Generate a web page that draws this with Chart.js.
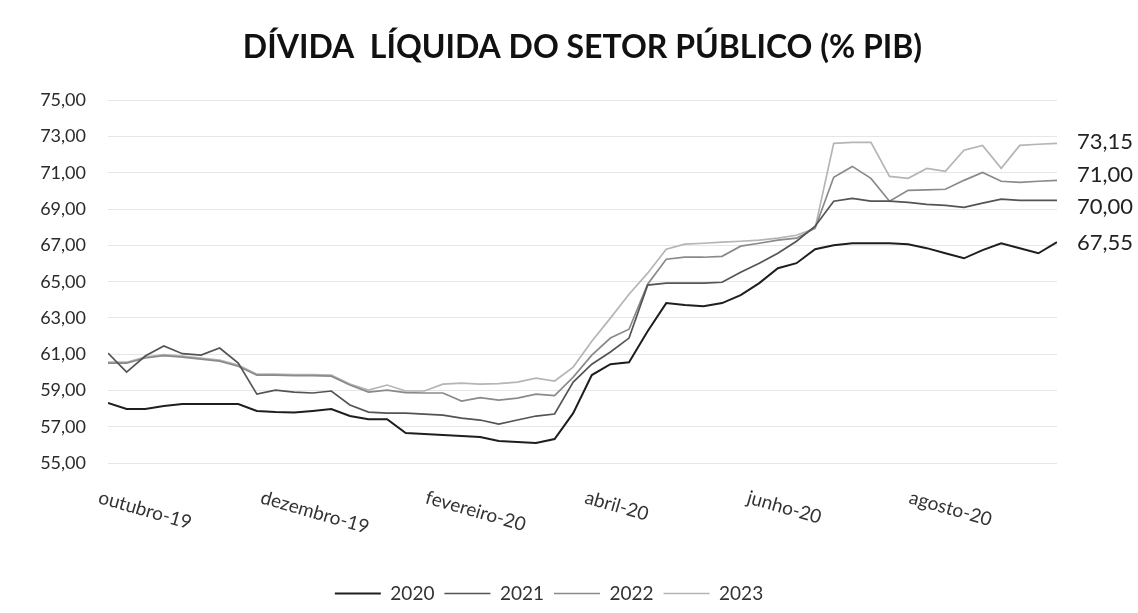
<!DOCTYPE html>
<html>
<head>
<meta charset="utf-8">
<script src="https://cdn.jsdelivr.net/npm/chart.js@4.4.1/dist/chart.umd.min.js"></script>
<style>
html,body{margin:0;padding:0;background:#fff;}
#wrap{width:1138px;height:613px;position:relative;}
</style>
</head>
<body>
<div id="wrap"><canvas id="c" width="1138" height="613"></canvas></div>
<script>
// Day offsets from 1 Oct 2019 (weekly observations)
const days = [0,7,14,21,28,35,42,49,56,63,70,77,84,91,98,105,112,119,126,133,140,147,154,161,168,175,182,189,196,203,210,217,224,231,238,245,252,259,266,273,280,287,294,301,308,315,322,329,336,343,350,357];

const s2020 = [58.31,57.98,57.98,58.14,58.25,58.25,58.25,58.25,57.87,57.81,57.78,57.87,57.98,57.59,57.42,57.42,56.65,56.60,56.54,56.49,56.43,56.21,56.16,56.10,56.32,57.75,59.85,60.45,60.56,62.27,63.82,63.71,63.65,63.82,64.26,64.92,65.74,66.02,66.79,67.01,67.12,67.12,67.12,67.07,66.85,66.57,66.29,66.74,67.12,66.85,66.57,67.18];
const s2021 = [61.06,60.01,60.90,61.45,61.03,60.95,61.34,60.51,58.80,59.02,58.91,58.86,58.97,58.20,57.81,57.75,57.75,57.70,57.64,57.48,57.37,57.15,57.37,57.59,57.70,59.46,60.45,61.12,61.89,64.81,64.92,64.92,64.92,64.97,65.52,66.02,66.57,67.23,68.06,69.44,69.60,69.44,69.44,69.38,69.27,69.21,69.10,69.33,69.55,69.49,69.49,69.49];
const s2022 = [60.51,60.51,60.79,60.92,60.84,60.73,60.62,60.34,59.85,59.85,59.82,59.82,59.79,59.30,58.91,59.02,58.88,58.86,58.86,58.42,58.61,58.47,58.58,58.80,58.72,59.74,60.95,61.89,62.38,64.86,66.24,66.35,66.35,66.40,66.96,67.12,67.29,67.40,67.95,70.76,71.36,70.70,69.44,70.04,70.07,70.10,70.59,71.03,70.54,70.48,70.54,70.59];
const s2023 = [60.56,60.56,60.84,60.98,60.90,60.79,60.67,60.40,59.90,59.90,59.88,59.88,59.85,59.35,59.02,59.30,58.97,58.97,59.35,59.41,59.35,59.38,59.46,59.68,59.52,60.29,61.72,62.99,64.31,65.47,66.79,67.07,67.12,67.18,67.23,67.29,67.40,67.56,67.95,72.63,72.69,72.69,70.81,70.70,71.25,71.09,72.25,72.52,71.25,72.52,72.58,72.63];

const seriesNames = ['2020','2021','2022','2023'];
const endLabels = ['67,55','70,00','71,00','73,15'];
const tickDays = [0,61,123,183,244,305];
const tickLabels = ['outubro-19','dezembro-19','fevereiro-20','abril-20','junho-20','agosto-20'];
const title = 'DÍVIDA  LÍQUIDA DO SETOR PÚBLICO (% PIB)';

const colors = ['#1e1e1e','#545454','#8a8a8a','#b5b5b5'];
const allSeries = [s2020,s2021,s2022,s2023];

const datasets = allSeries.map((s,i)=>({
  label: seriesNames[i],
  data: s.map((v,j)=>({x: days[j], y: v})),
  borderColor: colors[i],
  backgroundColor: colors[i],
  borderWidth: i===0 ? 2 : 1.7,
  pointRadius: 0,
  tension: 0,
  fill: false
}));

const xLabelPlugin = {
  id: 'xlabels',
  afterDraw(chart){
    const ctx = chart.ctx, xs = chart.scales.x, area = chart.chartArea;
    ctx.save();
    ctx.font = '19px Lato';
    ctx.fillStyle = '#333';
    ctx.textAlign = 'left';
    ctx.textBaseline = 'middle';
    tickDays.forEach((d,i)=>{
      const x = xs.getPixelForValue(d);
      ctx.save();
      ctx.translate(x - 9, area.bottom + 34);
      ctx.rotate(16*Math.PI/180);
      ctx.fillText(tickLabels[i], 0, 0);
      ctx.restore();
    });
    ctx.restore();
  }
};

const endLabelPlugin = {
  id: 'endlabels',
  afterDatasetsDraw(chart){
    const ctx = chart.ctx, area = chart.chartArea;
    const nudge = [1, 7, -5, -1];
    ctx.save();
    ctx.font = '22px Lato';
    ctx.fillStyle = '#222';
    ctx.textAlign = 'left';
    ctx.textBaseline = 'middle';
    chart.data.datasets.forEach((ds,i)=>{
      const meta = chart.getDatasetMeta(i);
      const pt = meta.data[meta.data.length-1];
      ctx.fillText(endLabels[i], area.right + 20, pt.y + nudge[i]);
    });
    ctx.restore();
  }
};

new Chart(document.getElementById('c'), {
  type: 'line',
  data: { datasets },
  options: {
    responsive: false,
    animation: false,
    layout: { padding: { left: 0, right: 40, top: 0, bottom: 0 } },
    scales: {
      x: {
        type: 'linear', min: 0, max: 357,
        grid: { display: false },
        border: { display: false },
        ticks: { display: false },
        afterFit(scale){ scale.height = 111; }
      },
      y: {
        min: 55, max: 75,
        afterFit(scale){ scale.width = 108; },
        border: { display: false },
        grid: { color: '#e6e6e6', lineWidth: 1, drawTicks: false },
        ticks: {
          stepSize: 2, padding: 22, color: '#2a2a2a',
          font: { family: 'Lato', size: 18 },
          callback: v => v.toFixed(2).replace('.', ',')
        }
      },
      y2: {
        position: 'right', display: true,
        grid: { display: false }, border: { display: false },
        ticks: { display: false },
        afterFit(scale){ scale.width = 41; }
      }
    },
    plugins: {
      title: {
        display: true, text: title, color: '#111',
        fullSize: false,
        font: { family: 'Lato', size: 32, weight: 'bold' },
        padding: { top: 28, bottom: 34 }
      },
      legend: {
        position: 'bottom',
        labels: {
          usePointStyle: true, pointStyle: 'line', pointStyleWidth: 46,
          color: '#333', font: { family: 'Lato', size: 19 }, padding: 10
        }
      },
      tooltip: { enabled: false }
    }
  },
  plugins: [xLabelPlugin, endLabelPlugin]
});
</script>
</body>
</html>
